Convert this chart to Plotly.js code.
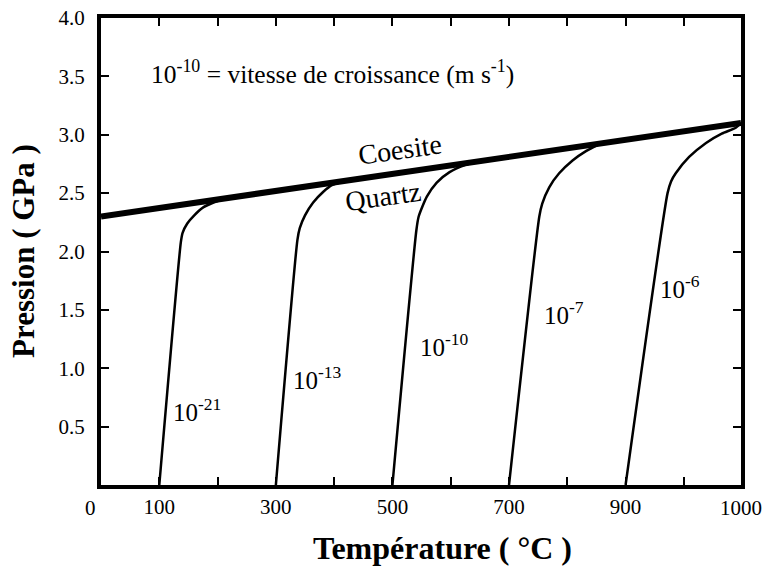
<!DOCTYPE html>
<html>
<head>
<meta charset="utf-8">
<script src="https://cdn.plot.ly/plotly-3.0.1.min.js"></script>
<style>html,body{margin:0;padding:0;background:#fff;}#chart{width:764px;height:572px;}</style>
</head>
<body>
<div id="chart"></div>
<script>
// Coesite / Quartz transition line
const coesiteT = [0, 1098];
const coesiteP = [2.30, 3.10];

// Growth-rate curves (temperature °C, pressure GPa)
const c21T = [100, 137, 140, 148, 160, 176, 193, 210];
const c21P = [0, 2.08, 2.16, 2.24, 2.31, 2.38, 2.42, 2.45];
const c13T = [300, 337, 341, 350, 364, 381, 397, 415];
const c13P = [0, 2.10, 2.20, 2.31, 2.42, 2.51, 2.57, 2.60];
const c10T = [500, 541, 545, 559, 576, 598, 624, 645];
const c10P = [0, 2.18, 2.30, 2.47, 2.59, 2.68, 2.74, 2.77];
const c7T = [700, 752, 757, 769, 786, 809, 832, 855];
const c7P = [0, 2.30, 2.41, 2.55, 2.67, 2.78, 2.86, 2.92];
const c6T = [900, 972, 978, 986, 1009, 1038, 1065, 1089, 1098];
const c6P = [0, 2.50, 2.60, 2.67, 2.81, 2.93, 3.01, 3.06, 3.10];

const curveLabels = ['10<sup>-21</sup>', '10<sup>-13</sup>', '10<sup>-10</sup>', '10<sup>-7</sup>', '10<sup>-6</sup>'];
const curveLabelT = [164, 371, 590, 795, 994];
const curveLabelP = [0.64, 0.92, 1.20, 1.47, 1.70];

const xTickVals = [0, 100, 200, 300, 400, 500, 600, 700, 800, 900, 1000];
const xTickText = ['', '100', '', '300', '', '500', '', '700', '', '900', ''];
const yTickVals = [0.5, 1.0, 1.5, 2.0, 2.5, 3.0, 3.5, 4.0];
const yTickText = ['0.5', '1.0', '1.5', '2.0', '2.5', '3.0', '3.5', '4.0'];

const serif = '"Liberation Serif", "Times New Roman", serif';

const W = 764, H = 572, mL = 101, mR = 23, mT = 18, mB = 87;
const px2fx = x => (x - mL) / (W - mL - mR);
const px2fy = y => 1 - (y - mT) / (H - mT - mB);

const curveSets = [[c21T, c21P], [c13T, c13P], [c10T, c10P], [c7T, c7P], [c6T, c6P]];
const traces = curveSets.map(([t, p]) => ({
  x: t, y: p, mode: 'lines', type: 'scatter',
  line: {color: '#000', width: 2.5, shape: 'spline', smoothing: 0.6},
  hoverinfo: 'skip', showlegend: false
}));
traces.push({
  x: coesiteT, y: coesiteP, mode: 'lines', type: 'scatter',
  line: {color: '#000', width: 6}, hoverinfo: 'skip', showlegend: false
});

const annotations = curveLabels.map((txt, i) => ({
  text: txt, x: curveLabelT[i], y: curveLabelP[i], xref: 'x', yref: 'y',
  xanchor: 'center', yanchor: 'middle',
  showarrow: false, font: {family: serif, size: 25, color: '#000'}
}));
annotations.push(
  {text: '10<sup>-10</sup> = vitesse de croissance (m s<sup>-1</sup>)', x: 398, y: 3.53, xref: 'x', yref: 'y',
   xanchor: 'center', yanchor: 'middle',
   showarrow: false, font: {family: serif, size: 25.5, color: '#000'}},
  {text: 'Coesite', x: 513, y: 2.87, xref: 'x', yref: 'y', textangle: -8,
   xanchor: 'center', yanchor: 'middle',
   showarrow: false, font: {family: serif, size: 28, color: '#000'}},
  {text: 'Quartz', x: 483, y: 2.47, xref: 'x', yref: 'y', textangle: -8,
   xanchor: 'center', yanchor: 'middle',
   showarrow: false, font: {family: serif, size: 28, color: '#000'}},
  {text: '0', x: px2fx(90), y: px2fy(508), xref: 'paper', yref: 'paper',
   xanchor: 'center', yanchor: 'middle',
   showarrow: false, font: {family: serif, size: 21, color: '#000'}},
  {text: '1000', x: px2fx(741), y: px2fy(508), xref: 'paper', yref: 'paper',
   xanchor: 'center', yanchor: 'middle',
   showarrow: false, font: {family: serif, size: 21, color: '#000'}},
  {text: '<b>Température ( °C )</b>', x: px2fx(442), y: px2fy(548), xref: 'paper', yref: 'paper',
   xanchor: 'center', yanchor: 'middle',
   showarrow: false, font: {family: serif, size: 32, color: '#000'}},
  {text: '<b>Pression ( GPa )</b>', x: px2fx(23), y: px2fy(251), xref: 'paper', yref: 'paper', textangle: -90,
   xanchor: 'center', yanchor: 'middle',
   showarrow: false, font: {family: serif, size: 31, color: '#000'}}
);

const layout = {
  width: W, height: H,
  margin: {l: mL, r: mR, t: mT, b: mB, pad: 0},
  paper_bgcolor: '#fff', plot_bgcolor: '#fff',
  showlegend: false,
  xaxis: {
    range: [0, 1098], tickvals: xTickVals, ticktext: xTickText,
    ticks: 'inside', ticklen: 8, tickwidth: 2, tickcolor: '#000',
    showline: true, linewidth: 4, linecolor: '#000', mirror: 'ticks',
    showgrid: false, zeroline: false, ticklabelstandoff: 0,
    tickfont: {family: serif, size: 21, color: '#000'}
  },
  yaxis: {
    range: [0, 4], tickvals: yTickVals, ticktext: yTickText,
    ticks: 'inside', ticklen: 8, tickwidth: 2, tickcolor: '#000',
    showline: true, linewidth: 4, linecolor: '#000', mirror: 'ticks',
    showgrid: false, zeroline: false, ticklabelstandoff: 8,
    tickfont: {family: serif, size: 21, color: '#000'}
  },
  annotations: annotations
};

Plotly.newPlot('chart', traces, layout, {staticPlot: true, displayModeBar: false});
</script>
</body>
</html>
